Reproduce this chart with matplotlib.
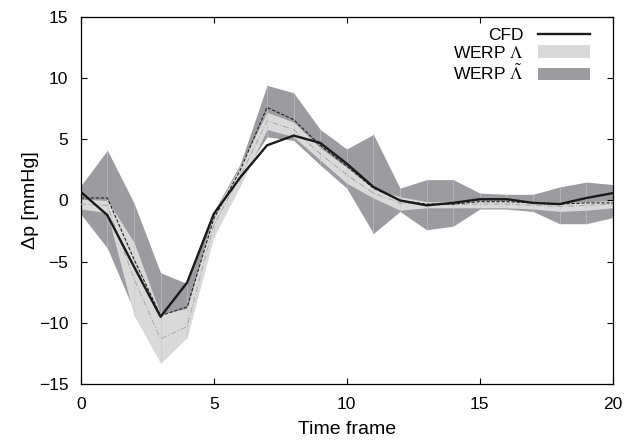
import matplotlib
matplotlib.use("Agg")
import matplotlib.pyplot as plt
import numpy as np
from matplotlib.patches import Patch
from matplotlib.lines import Line2D

plt.rcParams['font.family'] = ['Liberation Sans', 'DejaVu Sans']
plt.rcParams['mathtext.fontset'] = 'stix'

t = list(range(21))
cfd = [0.7, -1.2, -5.4, -9.5, -6.7, -1.1, 1.9, 4.5, 5.3, 4.7, 3.0, 1.1, 0.0, -0.4, -0.2, 0.1, 0.1, -0.2, -0.3, 0.2, 0.6]

# WERP Lambda-tilde (dark band) and its mean (dashed)
dark_upper = [1.2, 4.1, -0.2, -5.9, -6.8, -0.9, 3.0, 9.4, 8.8, 5.8, 4.2, 5.4, 1.0, 1.7, 1.7, 0.6, 0.5, 0.5, 1.1, 1.5, 1.3]
dark_lower = [-1.1, -3.9, -9.0, -12.8, -10.6, -2.1, 1.8, 5.2, 4.9, 2.9, 1.0, -2.7, -0.9, -2.4, -2.1, -0.7, -0.7, -0.9, -1.9, -1.9, -1.4]
dark_mean = [0.2, 0.2, -4.8, -9.4, -8.7, -1.5, 2.5, 7.6, 6.6, 4.5, 2.8, 1.0, 0.0, -0.3, -0.3, -0.1, -0.1, -0.2, -0.3, -0.2, -0.2]

# WERP Lambda (light band) and its mean (dash-dot)
light_upper = [0.1, 0.0, -3.4, -9.3, -8.8, -1.0, 2.8, 7.2, 6.4, 4.3, 2.7, 1.0, 0.3, -0.1, -0.1, 0.0, 0.0, -0.1, -0.2, -0.1, 0.0]
light_lower = [-0.7, -1.0, -9.4, -13.3, -11.2, -3.0, 1.2, 5.8, 5.2, 3.3, 1.4, 0.2, -0.8, -0.6, -0.6, -0.6, -0.6, -0.7, -0.9, -0.8, -0.6]
light_mean = [-0.3, -0.4, -6.4, -11.3, -10.3, -2.0, 2.0, 6.5, 5.8, 3.8, 2.1, 0.6, -0.2, -0.3, -0.35, -0.3, -0.3, -0.4, -0.5, -0.4, -0.3]

x_ticks = [0, 5, 10, 15, 20]
y_ticks = [-15, -10, -5, 0, 5, 10, 15]

dark_col = '#9c9ca0'
light_col = '#d9d9da'

fig = plt.figure(figsize=(6.26, 4.42), dpi=100)
ax = fig.add_axes([0.129, 0.131, 0.850, 0.831])

ax.fill_between(t, dark_lower, dark_upper, color=dark_col, linewidth=0, zorder=1)
ax.vlines(t, dark_lower, dark_upper, color='#b8b8bb', linewidth=0.6, zorder=1.5)
ax.fill_between(t, light_lower, light_upper, color=light_col, linewidth=0, zorder=2)
ax.vlines(t, light_lower, light_upper, color='#c8c8c8', linewidth=0.5, zorder=2.5)
ax.plot(t, light_mean, color='#a8a8a8', linewidth=0.7, linestyle=(0, (6, 2, 1, 2)), zorder=3)
ax.plot(t, dark_mean, color='#222222', linewidth=0.8, linestyle=(0, (3, 1.5)), zorder=4)
ax.plot(t, cfd, color='#1a1a1a', linewidth=1.7, zorder=5)

ax.set_xlim(0, 20)
ax.set_ylim(-15, 15)
ax.set_xticks(x_ticks)
ax.set_yticks(y_ticks)
ax.set_yticklabels(['\u221215', '\u221210', '\u22125', '0', '5', '10', '15'])
ax.tick_params(direction='in', top=True, right=True, labelsize=12.5, length=4, width=0.8)
ax.tick_params(axis='x', pad=9)
ax.tick_params(axis='y', pad=9)
for s in ax.spines.values():
    s.set_linewidth(0.9)

ax.set_xlabel('Time frame', fontsize=14, labelpad=7)
ax.set_ylabel('\u0394p [mmHg]', fontsize=14, labelpad=0)

handles = [Line2D([0], [0], color='#1a1a1a', linewidth=1.7),
           Patch(facecolor=light_col, edgecolor='none'),
           Patch(facecolor=dark_col, edgecolor='none')]
labels = ['CFD', r'WERP $\Lambda$', r'WERP $\tilde{\Lambda}$']
ax.legend(handles, labels, loc='upper right', frameon=False, markerfirst=False,
          bbox_to_anchor=(0.97, 0.99), borderaxespad=0.0,
          fontsize=12.5, handlelength=3.0, handleheight=0.75, labelspacing=0.12,
          handletextpad=0.8)

fig.savefig('out.png', dpi=100)
